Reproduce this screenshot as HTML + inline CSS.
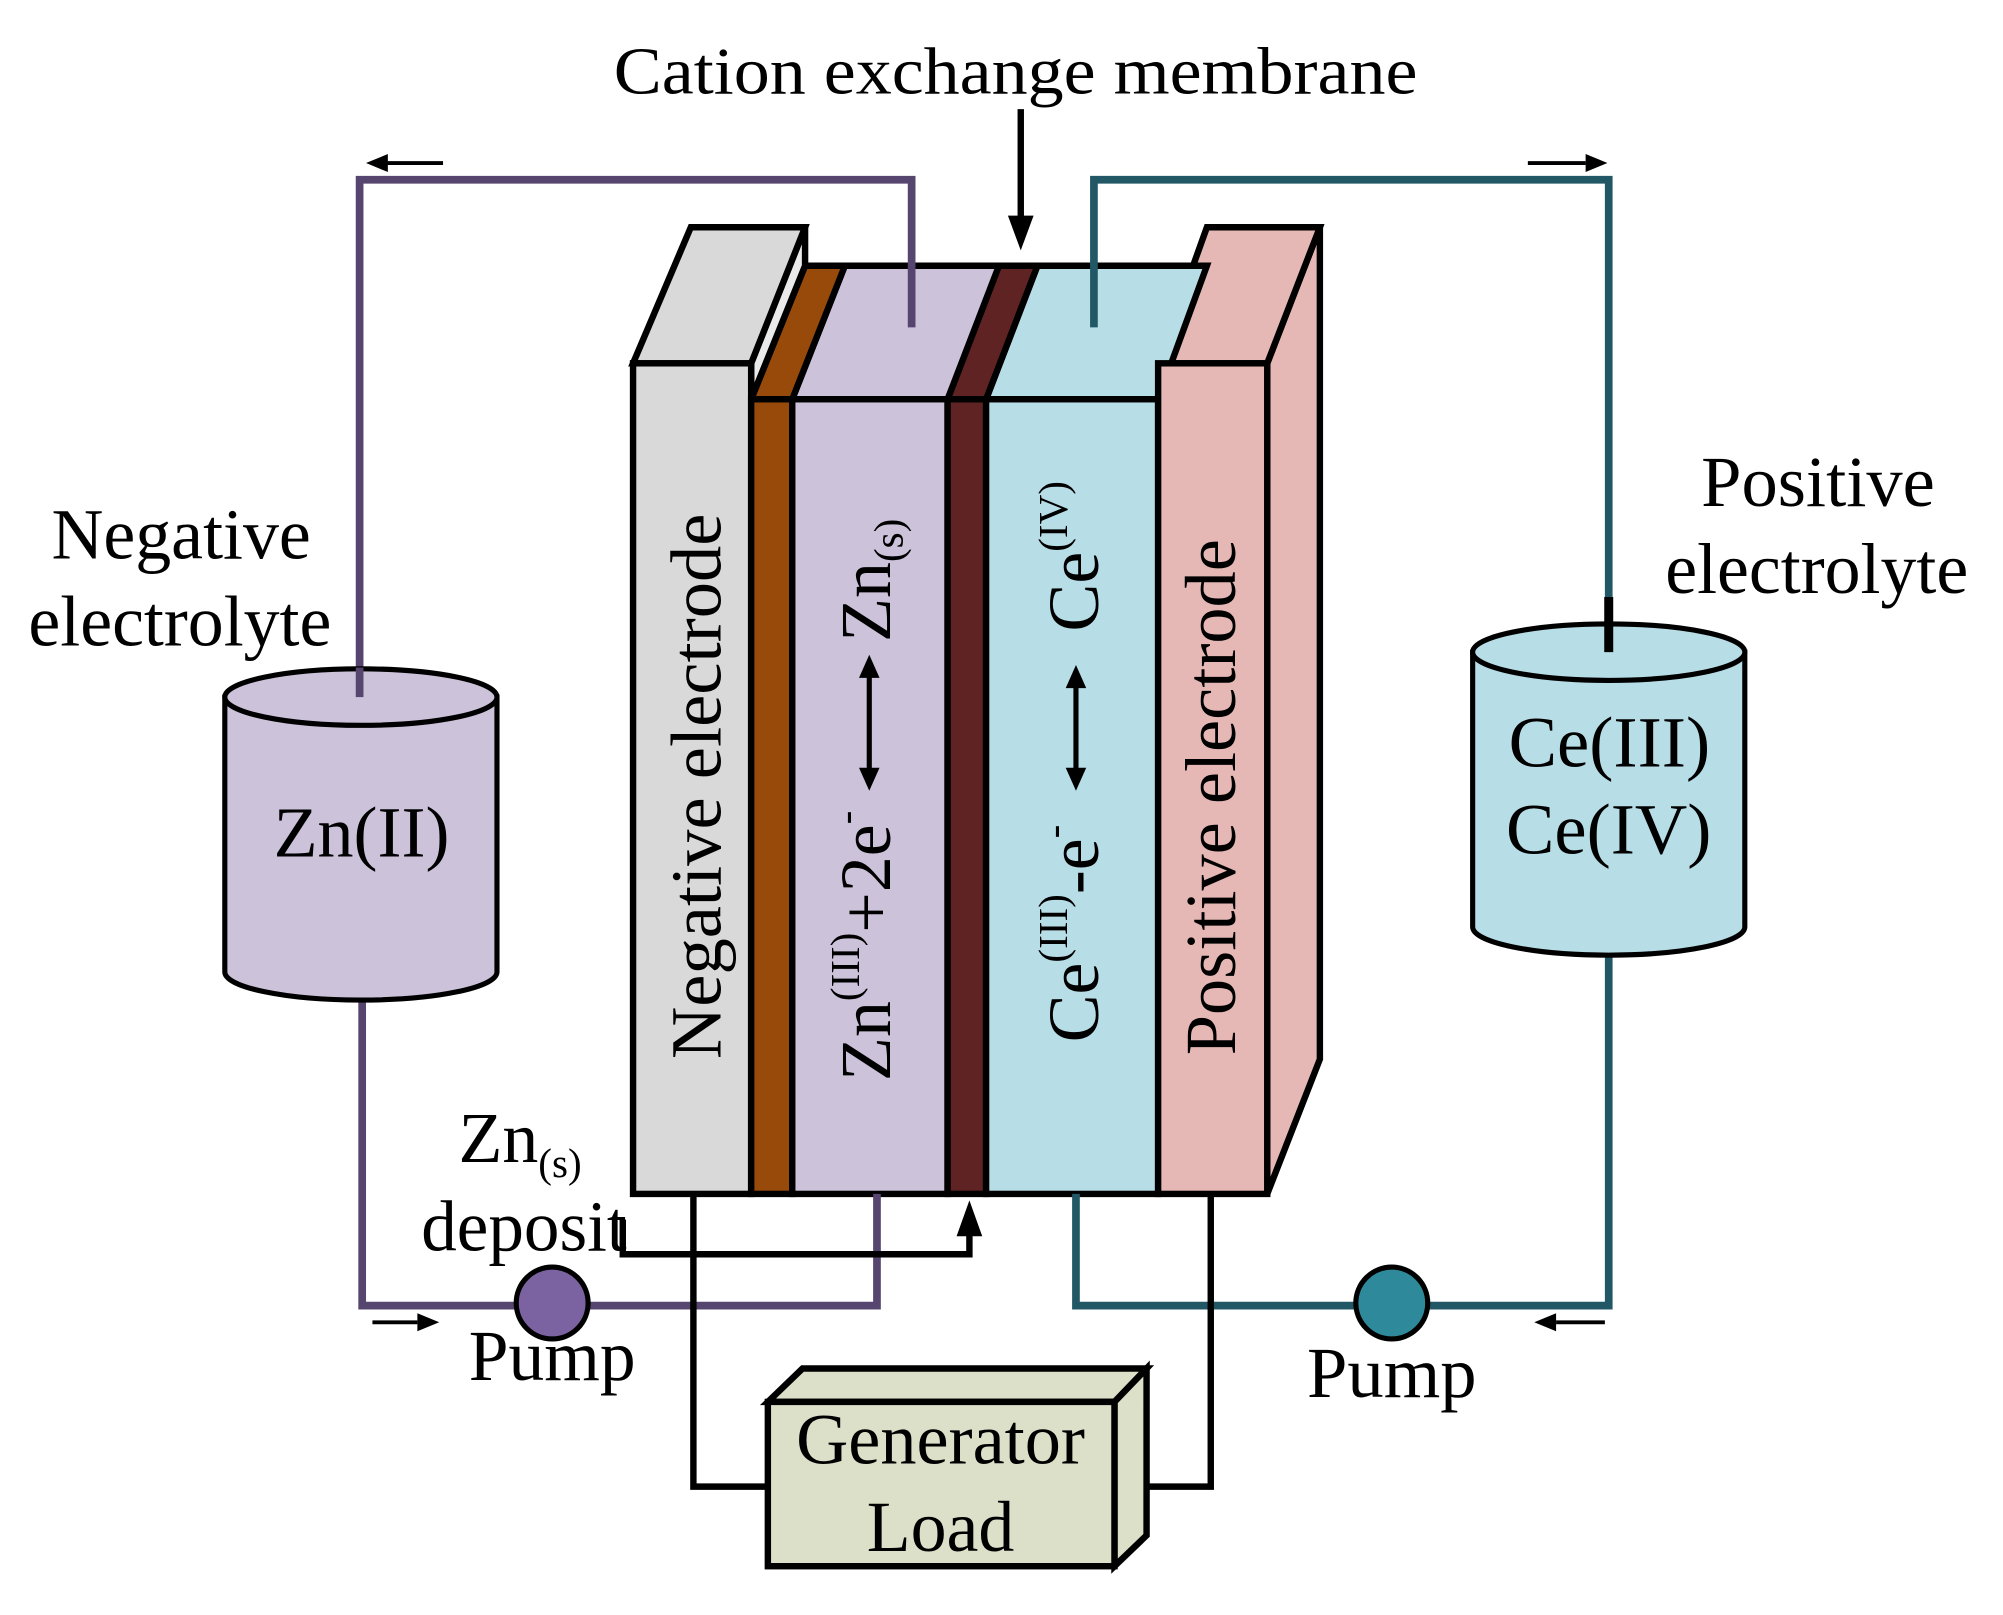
<!DOCTYPE html>
<html><head><meta charset="utf-8"><style>
html,body{margin:0;padding:0;background:#fff}
svg{display:block}
text{font-family:"Liberation Serif",serif;fill:#000}
</style></head><body>
<svg width="2003" height="1615" viewBox="0 0 1560 1258" xmlns="http://www.w3.org/2000/svg">
<g stroke="#000" stroke-width="5" stroke-linejoin="miter">
<polygon points="987,283 1028,177 1028,825 987,930" fill="#e5b8b5"/>
<polygon points="902,283 940,177 1028,177 987,283" fill="#e5b8b5"/>
<polygon points="768,311 808,207 940,207 902,311" fill="#b7dde7"/>
<polygon points="738,311 778,207 808,207 768,311" fill="#5e2322"/>
<polygon points="617,311 658,207 778,207 738,311" fill="#ccc2da"/>
<polygon points="585,311 627,207 658,207 617,311" fill="#984a0b"/>
<polygon points="585,283 627,177 627,207 585,311" fill="#eaeaea"/>
<polygon points="493,283 538,177 627,177 585,283" fill="#d9d9d9"/>
<rect x="493" y="283" width="92" height="647" fill="#d9d9d9"/>
<rect x="585" y="311" width="32" height="619" fill="#984a0b"/>
<rect x="617" y="311" width="121" height="619" fill="#ccc2da"/>
<rect x="738" y="311" width="30" height="619" fill="#5e2322"/>
<rect x="768" y="311" width="134" height="619" fill="#b7dde7"/>
<rect x="902" y="283" width="85" height="647" fill="#e5b8b5"/>
</g>
<g fill="none" stroke="#56456e" stroke-width="6">
<polyline points="710,255 710,140 280,140 280,543"/>
<polyline points="282,778 282,1017 683,1017 683,930"/>
</g>
<g fill="none" stroke="#225866" stroke-width="6">
<polyline points="852,255 852,140 1253,140 1253,505"/>
<polyline points="1253,745 1253,1017 838,1017 838,930"/>
</g>
<g stroke="#000" stroke-width="4">
<path d="M175,543 L175,757 A106,22 0 0 0 387,757 L387,543 Z" fill="#ccc2da"/>
<ellipse cx="281" cy="543" rx="106" ry="22" fill="#ccc2da"/>
<path d="M1147,508 L1147,722 A106,22 0 0 0 1359,722 L1359,508 Z" fill="#b7dde7"/>
<ellipse cx="1253" cy="508" rx="106" ry="22" fill="#b7dde7"/>
</g>
<line x1="280" y1="520" x2="280" y2="543" stroke="#56456e" stroke-width="6"/>
<line x1="1253" y1="465" x2="1253" y2="508" stroke="#000" stroke-width="7"/>
<ellipse cx="430" cy="1015" rx="28" ry="28" fill="#7b62a0" stroke="#000" stroke-width="4"/>
<ellipse cx="1084" cy="1015" rx="28" ry="28" fill="#2e8a9a" stroke="#000" stroke-width="4"/>
<g fill="none" stroke="#000" stroke-width="5">
<polyline points="540,930 540,1158 600,1158"/>
<polyline points="943,930 943,1158 880,1158"/>
<polyline points="485,950 485,977 755,977 755,960"/>
<line x1="795" y1="85" x2="795" y2="172"/>
<line x1="345" y1="127" x2="300" y2="127" stroke-width="3"/>
<line x1="1190" y1="127" x2="1235" y2="127" stroke-width="3"/>
<line x1="290" y1="1030" x2="325" y2="1030" stroke-width="3"/>
<line x1="1250" y1="1030" x2="1212" y2="1030" stroke-width="3"/>
</g>
<g fill="#000">
<polygon points="745,963 765,963 755,935"/>
<polygon points="785,168 805,168 795,195"/>
<polygon points="285,127 302,120 302,134"/>
<polygon points="1252,127 1235,120 1235,134"/>
<polygon points="342,1030 325,1023 325,1037"/>
<polygon points="1195,1030 1212,1023 1212,1037"/>
<rect x="675" y="525" width="4" height="78"/>
<polygon points="669,528 685,528 677,510"/>
<polygon points="669,598 685,598 677,616"/>
<rect x="836" y="533" width="4" height="70"/>
<polygon points="830,536 846,536 838,518"/>
<polygon points="830,598 846,598 838,616"/>
</g>
<g stroke="#000" stroke-width="5" fill="#dde0c8" stroke-linejoin="miter">
<polygon points="598,1092 625,1066 893,1066 868,1092"/>
<polygon points="868,1092 893,1066 893,1196 868,1220"/>
<rect x="598" y="1092" width="270" height="128"/>
</g>
<g font-size="56">
<text x="478" y="73" textLength="626" lengthAdjust="spacingAndGlyphs" font-size="52">Cation exchange membrane</text>
<text x="40" y="435" textLength="202" lengthAdjust="spacingAndGlyphs">Negative</text>
<text x="22" y="503" textLength="236" lengthAdjust="spacingAndGlyphs">electrolyte</text>
<text x="1325" y="394" textLength="182" lengthAdjust="spacingAndGlyphs">Positive</text>
<text x="1297" y="462" textLength="236" lengthAdjust="spacingAndGlyphs">electrolyte</text>
<text x="213" y="667" textLength="137" lengthAdjust="spacingAndGlyphs">Zn(II)</text>
<text x="1175" y="597" textLength="157" lengthAdjust="spacingAndGlyphs">Ce(III)</text>
<text x="1173" y="665" textLength="160" lengthAdjust="spacingAndGlyphs">Ce(IV)</text>
<text x="365" y="1075" textLength="130" lengthAdjust="spacingAndGlyphs">Pump</text>
<text x="1018" y="1088" textLength="132" lengthAdjust="spacingAndGlyphs">Pump</text>
<text x="357" y="905">Zn<tspan font-size="32" dy="12">(s)</tspan></text>
<text x="328" y="974" textLength="160" lengthAdjust="spacingAndGlyphs">deposit</text>
<text x="620" y="1140" textLength="225" lengthAdjust="spacingAndGlyphs">Generator</text>
<text x="675" y="1208" textLength="115" lengthAdjust="spacingAndGlyphs">Load</text>
</g>
<g font-size="56">
<text transform="translate(561,825) rotate(-90)" textLength="425" lengthAdjust="spacingAndGlyphs">Negative electrode</text>
<text transform="translate(962,822) rotate(-90)" textLength="402" lengthAdjust="spacingAndGlyphs">Positive electrode</text>
<text transform="translate(693,842) rotate(-90)">Zn<tspan font-size="32" dy="-24">(III)</tspan><tspan dy="24">+2e</tspan><tspan font-size="32" dy="-24">-</tspan></text>
<text transform="translate(693,500) rotate(-90)">Zn<tspan font-size="32" dy="10">(s)</tspan></text>
<text transform="translate(855,812) rotate(-90)">Ce<tspan font-size="32" dy="-24">(III)</tspan><tspan dy="24">-e</tspan><tspan font-size="32" dy="-24">-</tspan></text>
<text transform="translate(855,492) rotate(-90)">Ce<tspan font-size="32" dy="-24">(IV)</tspan></text>
</g>
</svg>
</body></html>
